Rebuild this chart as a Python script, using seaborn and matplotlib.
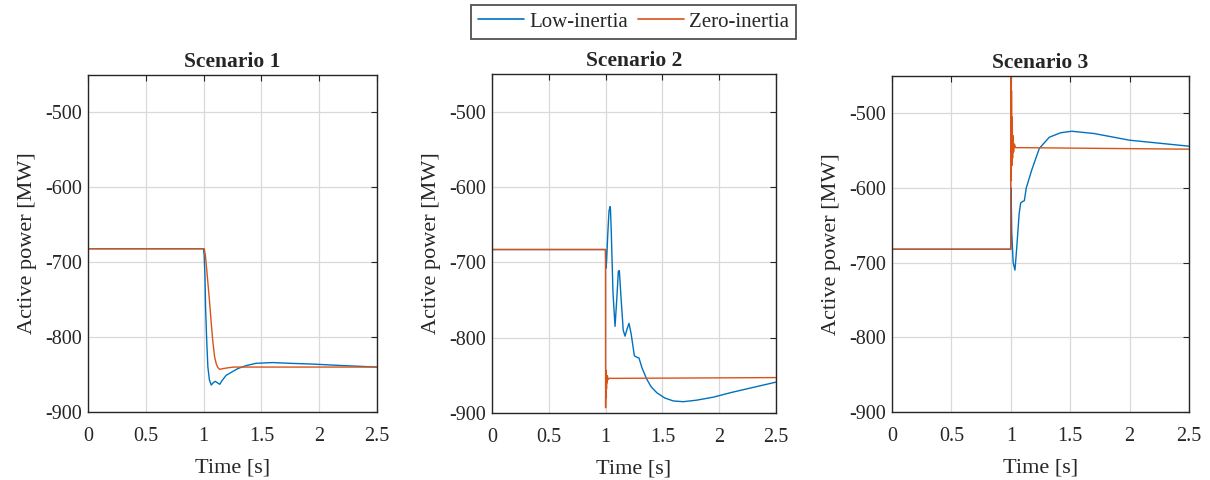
import numpy as np
import pandas as pd
import seaborn as sns
import matplotlib
matplotlib.use("Agg")
import matplotlib.pyplot as plt

# ---------------- data ----------------
scenarios = ["Scenario 1", "Scenario 2", "Scenario 3"]
series_names = ["Low-inertia", "Zero-inertia"]
x_ticks = [0, 0.5, 1, 1.5, 2, 2.5]
x_tick_labels = ["0", "0.5", "1", "1.5", "2", "2.5"]
y_ticks = [-900, -800, -700, -600, -500]

s1_low_t = [0, 0.999, 1.005, 1.012, 1.017, 1.027, 1.037, 1.05, 1.066, 1.083, 1.10, 1.12,
            1.14, 1.16, 1.195, 1.24, 1.296, 1.37, 1.454, 1.595, 1.75, 1.94, 2.2, 2.5]
s1_low_p = [-682, -682, -690, -720, -760, -805, -840, -857, -864, -861, -859, -861,
            -863, -858, -851, -847, -842, -838, -835, -834, -835, -836, -838, -840]
s1_zero_t = [0, 1.005, 1.015, 1.03, 1.05, 1.066, 1.08, 1.095, 1.11, 1.125, 1.14, 1.17,
             1.21, 1.26, 1.4, 2.5]
s1_zero_p = [-682, -682, -690, -715, -750, -781, -806, -826, -836, -841, -843, -842,
             -841, -840, -840, -840]

s2_low_t = [0, 0.999, 1.002, 1.008, 1.02, 1.03, 1.036, 1.039, 1.043, 1.05, 1.065, 1.083,
            1.1, 1.112, 1.121, 1.135, 1.155, 1.171, 1.19, 1.206, 1.225, 1.253, 1.275,
            1.294, 1.32, 1.362, 1.4, 1.45, 1.52, 1.596, 1.684, 1.8, 1.948, 2.1, 2.3, 2.5]
s2_low_p = [-683, -683, -708, -700, -660, -632, -628, -626, -630, -660, -740, -785,
            -745, -712, -711, -745, -790, -798, -788, -781, -795, -824, -826,
            -827, -840, -855, -865, -873, -880, -884, -885, -883, -879, -873, -866, -859]
s2_zero_t = [0, 0.999, 1.000, 1.002, 1.004, 1.006, 1.008, 1.010, 1.013, 1.016, 1.020,
             1.03, 1.1, 2.5]
s2_zero_p = [-683, -683, -893, -843, -880, -848, -868, -850, -860, -851, -856,
             -854, -854, -853]

s3_low_t = [0, 0.999, 1.002, 1.008, 1.02, 1.035, 1.05, 1.07, 1.083, 1.1, 1.114, 1.13,
            1.176, 1.24, 1.324, 1.42, 1.513, 1.7, 2.0, 2.25, 2.5]
s3_low_p = [-682, -682, -600, -660, -700, -710, -680, -635, -620, -618, -617, -600,
            -576, -547, -532, -526, -524, -527, -536, -540, -544]
s3_zero_t = [0, 0.999, 1.000, 1.003, 1.006, 1.009, 1.012, 1.015, 1.019, 1.023, 1.03,
             1.04, 1.1, 2.5]
s3_zero_p = [-682, -682, -440, -590, -470, -570, -505, -560, -530, -552, -541,
             -546, -546, -548]

low_t = [s1_low_t, s2_low_t, s3_low_t]
low_p = [s1_low_p, s2_low_p, s3_low_p]
zero_t = [s1_zero_t, s2_zero_t, s3_zero_t]
zero_p = [s1_zero_p, s2_zero_p, s3_zero_p]

# ---------------- style ----------------
sns.set_style("white")
plt.rcParams["font.family"] = ["Liberation Serif", "DejaVu Serif"]
plt.rcParams["axes.unicode_minus"] = False

colors = {"Low-inertia": "#0072BD", "Zero-inertia": "#D95319"}
ink = "#262626"

fig = plt.figure(figsize=(12.1, 4.8), dpi=100)
positions = [
    [88 / 1210, 1 - 412 / 480, 289 / 1210, 337 / 480],
    [492 / 1210, 1 - 413 / 480, 284 / 1210, 339 / 480],
    [892 / 1210, 1 - 412 / 480, 297 / 1210, 336 / 480],
]

handles, labels = None, None
for i, name in enumerate(scenarios):
    ax = fig.add_axes(positions[i])
    df = pd.concat([
        pd.DataFrame({"t": low_t[i], "p": low_p[i], "series": series_names[0]}),
        pd.DataFrame({"t": zero_t[i], "p": zero_p[i], "series": series_names[1]}),
    ], ignore_index=True)
    sns.lineplot(data=df, x="t", y="p", hue="series", palette=colors,
                 estimator=None, sort=False, lw=1.0, ax=ax,
                 legend=(i == 0))
    ax.set_xlim(0, 2.5)
    ax.set_ylim(-900, -450)
    ax.set_xticks(x_ticks)
    ax.set_xticklabels(x_tick_labels)
    ax.set_yticks(y_ticks)
    ax.grid(True, color="#d9d9d9", lw=0.9)
    ax.set_axisbelow(True)
    for sp in ax.spines.values():
        sp.set_visible(True)
        sp.set_color(ink)
        sp.set_linewidth(1.0)
    ax.tick_params(direction="in", top=True, right=True, length=4,
                   width=0.8, labelsize=14.5, colors=ink)
    ax.tick_params(axis="x", pad=11)
    ax.tick_params(axis="y", pad=4.5)
    ax.set_xlabel("Time [s]", fontsize=16, color=ink, labelpad=9)
    ax.set_ylabel("Active power [MW]", fontsize=16, color=ink, labelpad=6)
    ax.set_title(name, fontsize=15.5, fontweight="bold", pad=6)
    if i == 0:
        handles, labels = ax.get_legend_handles_labels()
        ax.get_legend().remove()

leg = fig.legend(handles, labels, loc="upper center", bbox_to_anchor=(0.5236, 0.99),
                 ncol=2, frameon=True, fancybox=False, edgecolor=ink,
                 fontsize=15, handlelength=2.2, handletextpad=0.25, columnspacing=0.5,
                 borderpad=0.35, borderaxespad=0)
leg.get_frame().set_linewidth(1.3)
for line in leg.get_lines():
    line.set_linewidth(1.2)

fig.savefig("out.png", dpi=100)
